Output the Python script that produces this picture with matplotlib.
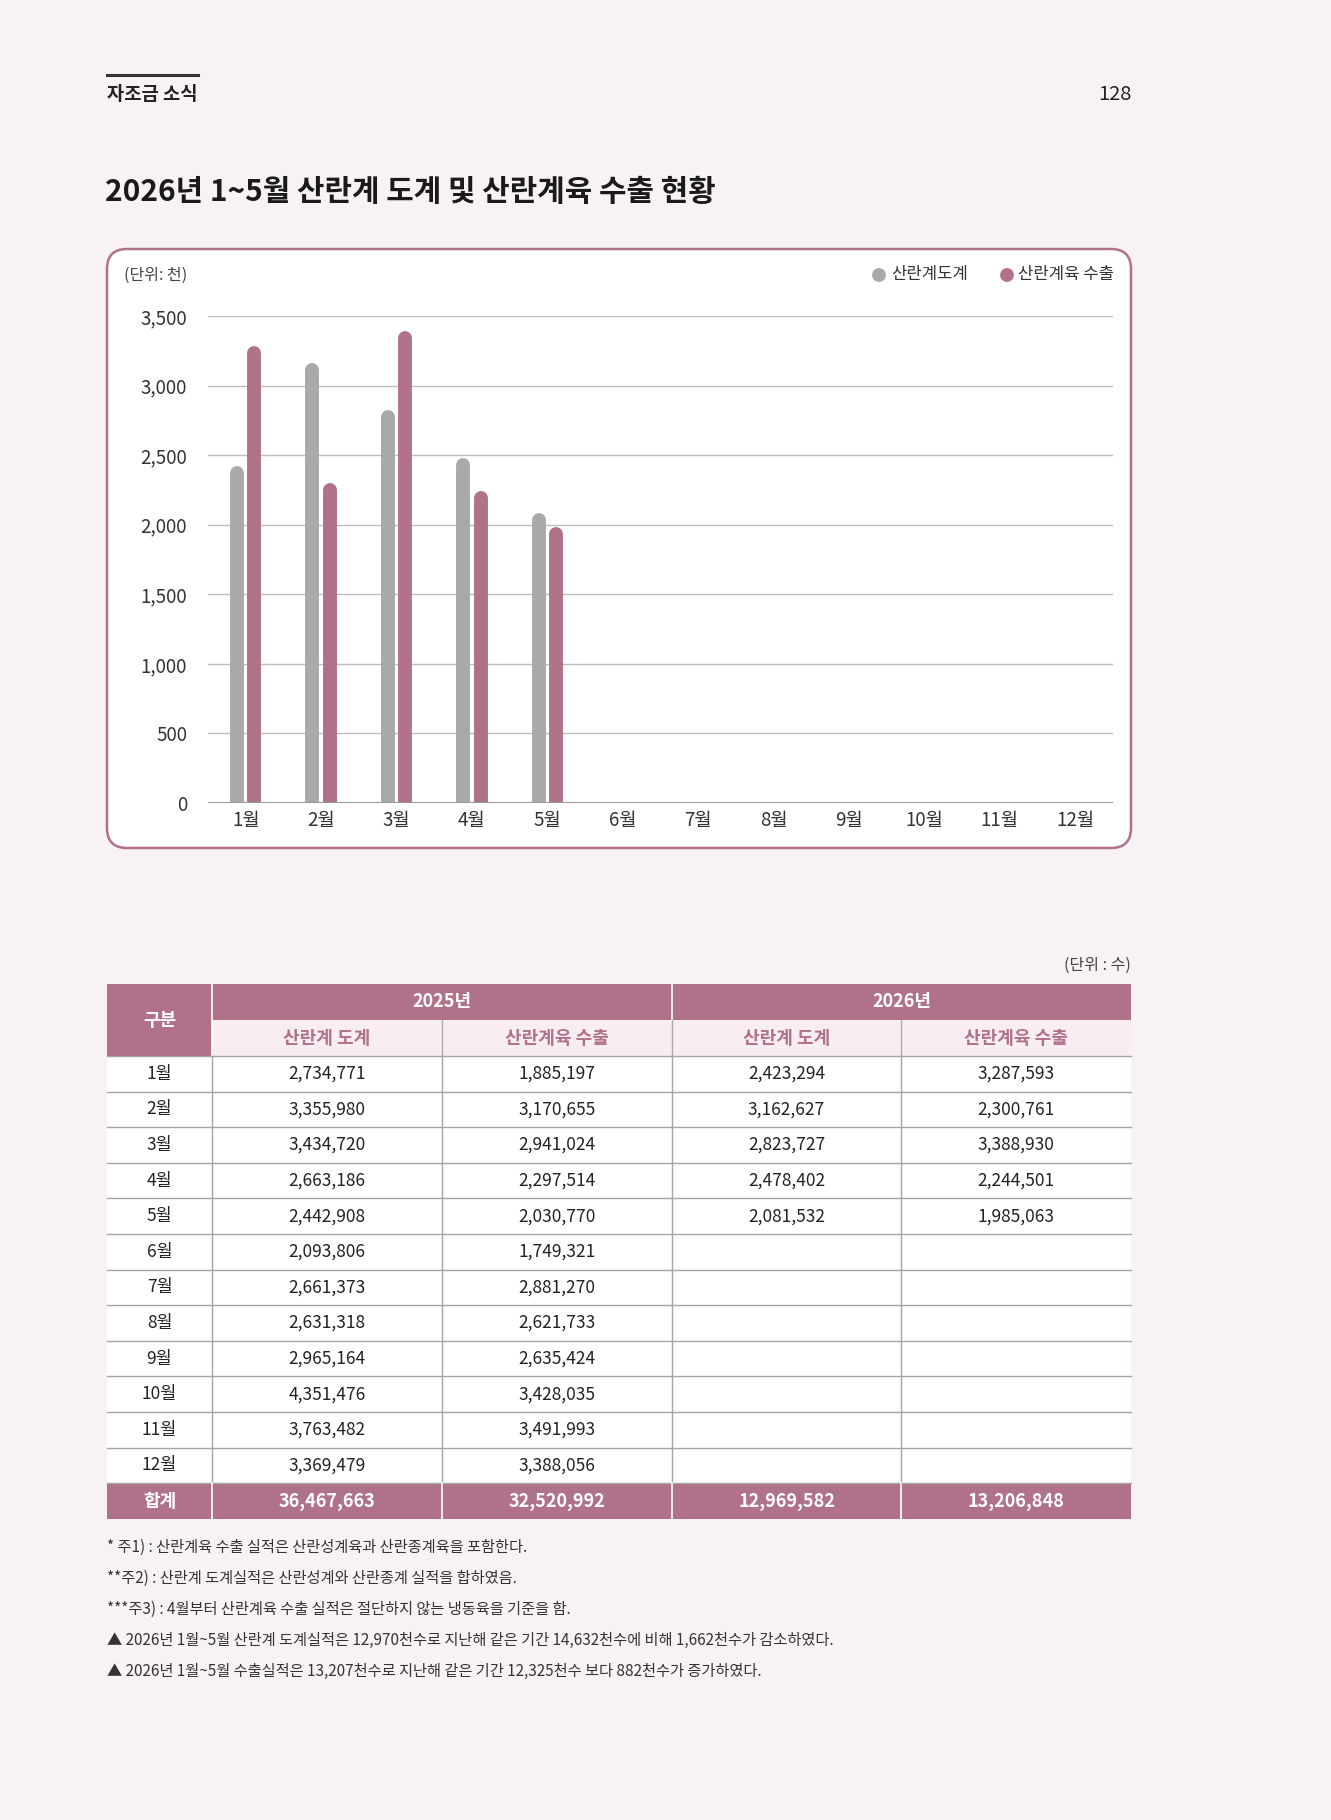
import matplotlib.pyplot as plt
from matplotlib.patches import Rectangle, FancyBboxPatch

plt.rcParams['font.family'] = ['Noto Sans CJK KR', 'DejaVu Sans']

# ---- data ----
months = ['1월', '2월', '3월', '4월', '5월', '6월', '7월', '8월', '9월', '10월', '11월', '12월']
slaughter_2025 = [2734771, 3355980, 3434720, 2663186, 2442908, 2093806,
                  2661373, 2631318, 2965164, 4351476, 3763482, 3369479]
export_2025 = [1885197, 3170655, 2941024, 2297514, 2030770, 1749321,
               2881270, 2621733, 2635424, 3428035, 3491993, 3388056]
slaughter_2026 = [2423294, 3162627, 2823727, 2478402, 2081532]
export_2026 = [3287593, 2300761, 3388930, 2244501, 1985063]
totals = [36467663, 32520992, 12969582, 13206848]
y_ticks = [0, 500, 1000, 1500, 2000, 2500, 3000, 3500]
series_names = ['산란계도계', '산란계육 수출']
col_heads = ['산란계 도계', '산란계육 수출', '산란계 도계', '산란계육 수출']
notes = ['* 주1) : 산란계육 수출 실적은 산란성계육과 산란종계육을 포함한다.',
         '**주2) : 산란계 도계실적은 산란성계와 산란종계 실적을 합하였음.',
         '***주3) : 4월부터 산란계육 수출 실적은 절단하지 않는 냉동육을 기준을 함.',
         '▲ 2026년 1월~5월 산란계 도계실적은 12,970천수로 지난해 같은 기간 14,632천수에 비해 1,662천수가 감소하였다.',
         '▲ 2026년 1월~5월 수출실적은 13,207천수로 지난해 같은 기간 12,325천수 보다 882천수가 증가하였다.']

bg = '#f9f2f5'
mauve = '#b0718a'
grey = '#a9a9a9'
W, H = 1331, 1820

fig = plt.figure(figsize=(W / 100, H / 100), dpi=100)
fig.patch.set_facecolor(bg)

# page axes in pixel coordinates
page = fig.add_axes([0, 0, 1, 1])
page.set_xlim(0, W)
page.set_ylim(H, 0)
page.axis('off')

# header
page.plot([107, 198], [75, 75], color='#333333', lw=2.2)
page.text(107, 94, '자조금 소식', fontsize=13.5, fontweight='bold', color='#222222', va='center')
page.text(1132, 94, '128', fontsize=14.5, fontweight='medium', color='#222222',
          va='center', ha='right')
page.text(105, 192, '2026년 1~5월 산란계 도계 및 산란계육 수출 현황', fontsize=21.5,
          fontweight='bold', color='#1a1a1a', va='center')

# chart box
box = FancyBboxPatch((107, 249), 1024, 599, boxstyle='round,pad=0,rounding_size=20',
                     fc='white', ec=mauve, lw=1.8)
page.add_patch(box)
page.text(124, 275, '(단위: 천)', fontsize=11.5, color='#444444', va='center')
page.scatter([879, 1007], [275, 275], s=80, color=[grey, mauve], zorder=3)
page.text(891, 275, series_names[0], fontsize=12, color='#333333', va='center')
page.text(1018, 275, series_names[1], fontsize=12, color='#333333', va='center')

# chart
ax = fig.add_axes([208 / W, 1 - 803 / H, (1113 - 208) / W, (803 - 316) / H])
ax.set_facecolor('white')
ax.set_xlim(-0.5, 11.5)
ax.set_ylim(0, 3500)
for s in ax.spines.values():
    s.set_visible(False)
ax.set_yticks(y_ticks)
ax.set_yticklabels([f'{t:,}' for t in y_ticks])
ax.set_xticks(range(len(months)))
ax.set_xticklabels(months)
ax.tick_params(length=0, labelsize=13.5, labelcolor='#333333')
ax.tick_params(axis='y', pad=15)
ax.tick_params(axis='x', pad=5)
ax.grid(axis='y', color='#bdbdbd', lw=1)
ax.set_axisbelow(True)
ax.axhline(0, color='#999999', lw=1.5, zorder=4)

cap = 50  # rounded top radius in data units
off = 0.115
for i, v in enumerate(slaughter_2026):
    ax.plot([i - off, i - off], [0, v / 1000 - cap], color=grey, lw=10,
            solid_capstyle='round', zorder=3)
for i, v in enumerate(export_2026):
    ax.plot([i + off, i + off], [0, v / 1000 - cap], color=mauve, lw=10,
            solid_capstyle='round', zorder=3)

# table
cols = [107, 212, 442, 672, 901, 1131]
top = 984
h1 = 36
row_h = 35.6
body_top = top + 2 * h1
page.text(1131, 965, '(단위 : 수)', fontsize=11.5, color='#444444', ha='right', va='center')

page.add_patch(Rectangle((cols[0], top), cols[-1] - cols[0], h1, fc=mauve, ec='none'))
page.add_patch(Rectangle((cols[0], top), cols[1] - cols[0], 2 * h1, fc=mauve, ec='none'))
page.add_patch(Rectangle((cols[1], top + h1), cols[-1] - cols[1], h1, fc='#f8eef2', ec='none'))
page.plot([cols[1], cols[1]], [top, top + 2 * h1], color='white', lw=1.2)
page.plot([cols[3], cols[3]], [top, top + h1], color='white', lw=1.2)
page.text((cols[0] + cols[1]) / 2, top + h1, '구분', color='white', fontsize=13,
          fontweight='bold', ha='center', va='center')
page.text((cols[1] + cols[3]) / 2, top + h1 / 2, '2025년', color='white', fontsize=13,
          fontweight='bold', ha='center', va='center')
page.text((cols[3] + cols[5]) / 2, top + h1 / 2, '2026년', color='white', fontsize=13,
          fontweight='bold', ha='center', va='center')
for j, name in enumerate(col_heads):
    page.text((cols[j + 1] + cols[j + 2]) / 2, top + 1.5 * h1, name, color=mauve,
              fontsize=13, fontweight='bold', ha='center', va='center')
for x in cols[2:5]:
    page.plot([x, x], [top + h1, top + 2 * h1], color='#aaaaaa', lw=1)

n = len(months)
page.add_patch(Rectangle((cols[0], body_top), cols[-1] - cols[0], n * row_h, fc='white', ec='none'))
for r in range(n):
    yc = body_top + (r + 0.5) * row_h
    vals = [months[r], f'{slaughter_2025[r]:,}', f'{export_2025[r]:,}',
            f'{slaughter_2026[r]:,}' if r < len(slaughter_2026) else '',
            f'{export_2026[r]:,}' if r < len(export_2026) else '']
    for j, t in enumerate(vals):
        page.text((cols[j] + cols[j + 1]) / 2, yc, t, fontsize=12.5, color='#222222',
                  ha='center', va='center')
for r in range(n + 1):
    yy = body_top + r * row_h
    page.plot([cols[0], cols[-1]], [yy, yy], color='#a5a5a5', lw=1)
for x in cols[1:5]:
    page.plot([x, x], [body_top, body_top + n * row_h], color='#a5a5a5', lw=1)

tot_top = body_top + n * row_h
page.add_patch(Rectangle((cols[0], tot_top), cols[-1] - cols[0], h1, fc=mauve, ec='none'))
page.text((cols[0] + cols[1]) / 2, tot_top + h1 / 2, '합계', color='white', fontsize=13,
          fontweight='bold', ha='center', va='center')
for j, v in enumerate(totals):
    page.text((cols[j + 1] + cols[j + 2]) / 2, tot_top + h1 / 2, f'{v:,}', color='white',
              fontsize=13, fontweight='bold', ha='center', va='center')
for x in cols[1:5]:
    page.plot([x, x], [tot_top, tot_top + h1], color='white', lw=1.2)

# notes
for k, t in enumerate(notes):
    page.text(107, 1547 + k * 31, t, fontsize=11, color='#333333', va='center')

fig.savefig('out.png', dpi=100, facecolor=bg)
